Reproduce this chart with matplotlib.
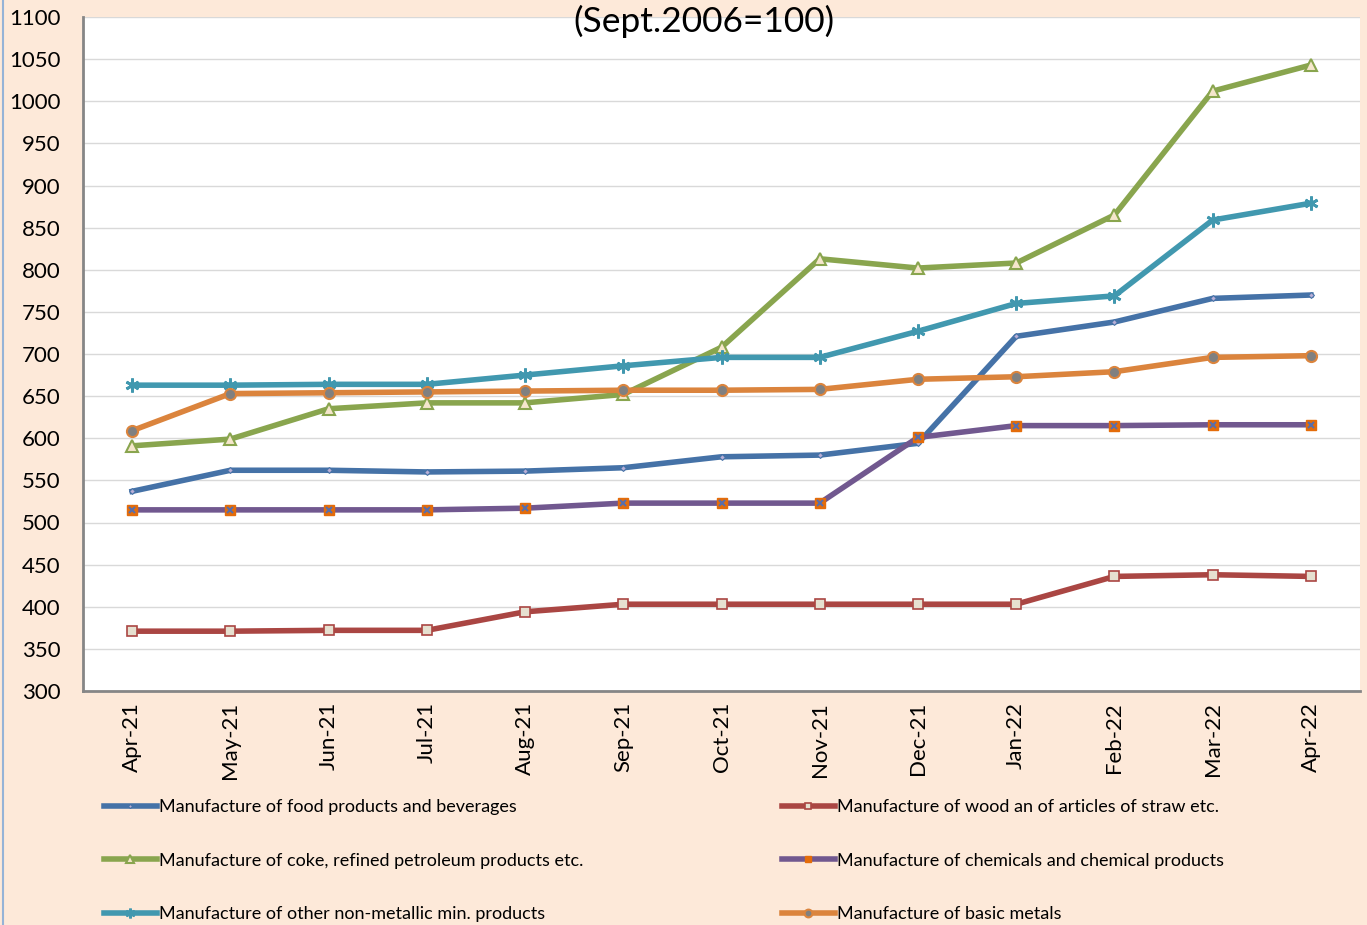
import matplotlib.pyplot as plt
from matplotlib.lines import Line2D

months = ["Apr-21", "May-21", "Jun-21", "Jul-21", "Aug-21", "Sep-21", "Oct-21",
          "Nov-21", "Dec-21", "Jan-22", "Feb-22", "Mar-22", "Apr-22"]

food = [537, 562, 562, 560, 561, 565, 578, 580, 594, 721, 738, 766, 770]
wood = [371, 371, 372, 372, 394, 403, 403, 403, 403, 403, 436, 438, 436]
coke = [591, 599, 635, 642, 642, 652, 708, 813, 802, 808, 865, 1012, 1043]
chem = [515, 515, 515, 515, 517, 523, 523, 523, 601, 615, 615, 616, 616]
nonmetal = [663, 663, 664, 664, 675, 686, 696, 696, 727, 760, 769, 859, 879]
metals = [609, 653, 654, 655, 656, 657, 657, 658, 670, 673, 679, 696, 698]

labels = ["Manufacture of food products and beverages",
          "Manufacture of wood an of articles of straw etc.",
          "Manufacture of coke, refined petroleum products etc.",
          "Manufacture of chemicals and chemical products",
          "Manufacture of other non-metallic min. products",
          "Manufacture of basic metals"]

plt.rcParams['font.family'] = ['Lato', 'DejaVu Sans']

bg = "#FDE9D9"
fig = plt.figure(figsize=(13.67, 9.25), dpi=100, facecolor=bg)
ax = fig.add_axes([83 / 1367, 1 - 691 / 925, 1277 / 1367, 674 / 925])
ax.set_facecolor("white")

x = list(range(len(months)))
lw = 4.0
h_food, = ax.plot(x, food, color="#4572A7", lw=lw, marker="D", ms=3,
                  mfc="#B9AFD6", mec="#4572A7", mew=0.8)
h_wood, = ax.plot(x, wood, color="#AA4643", lw=lw, marker="s", ms=7,
                  mfc="#E6E0D0", mec="#AA4643", mew=1.2)
h_coke, = ax.plot(x, coke, color="#89A54E", lw=lw, marker="^", ms=9,
                  mfc="#F5E6CC", mec="#89A54E", mew=1.5)
h_chem, = ax.plot(x, chem, color="#71588F", lw=lw, marker="s", ms=7,
                  mfc="#E46C0A", mec="#E46C0A", mew=1)
ax.plot(x, chem, ls="none", marker="x", ms=5, mec="#5B6EA8", mew=1.5)
h_nonm, = ax.plot(x, nonmetal, color="#4198AF", lw=lw, marker=(6, 2, 0),
                  ms=10, mec="#4198AF", mew=2)
h_met, = ax.plot(x, metals, color="#DB843D", lw=lw, marker="o", ms=8,
                 mfc="#808080", mec="#DB843D", mew=1.5)

ax.set_xlim(-0.5, len(months) - 0.5)
ax.set_ylim(300, 1100)
ax.set_yticks(range(300, 1101, 50))
ax.set_xticks(x)
ax.set_xticklabels(months, rotation=90)
ax.tick_params(axis="both", length=0, labelsize=16, colors="black", pad=8)
ax.tick_params(axis="y", pad=16)
ax.grid(axis="y", color="#D9D9D9", lw=1)
ax.set_axisbelow(True)
for s in ["top", "right"]:
    ax.spines[s].set_visible(False)
for s in ["left", "bottom"]:
    ax.spines[s].set_color("#868686")
    ax.spines[s].set_linewidth(2)

fig.text(704 / 1367, 1 - 21 / 925, "(Sept.2006=100)", fontsize=25.5,
         ha="center", va="center")

# linker blauer Rand
fig.add_artist(Line2D([3 / 1367, 3 / 1367], [0, 1], color="#95B3D7", lw=1.5,
                      transform=fig.transFigure))

handles = [h_food, h_coke, h_nonm, h_wood, h_chem, h_met]
order = [labels[0], labels[2], labels[4], labels[1], labels[3], labels[5]]
fig.legend(handles, order, ncol=2, loc="upper left",
           bbox_to_anchor=(88 / 1367, 1 - 783 / 925), frameon=False,
           fontsize=13, handlelength=2.9, handletextpad=0.15,
           labelspacing=2.07, columnspacing=11.0, markerscale=0.7)

fig.savefig("out.png", dpi=100, facecolor=bg)
